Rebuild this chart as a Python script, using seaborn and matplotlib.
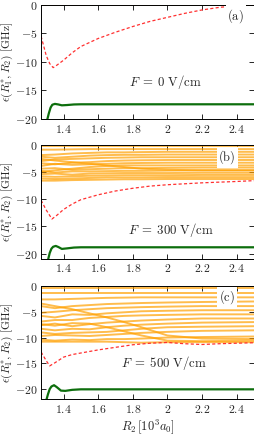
import numpy as np
import seaborn as sns
import matplotlib.pyplot as plt
from matplotlib.ticker import FuncFormatter, FixedLocator

# x grid shared by the excited (orange) levels
x_lvl = [1.27, 1.35, 1.45, 1.55, 1.65, 1.75, 1.85, 2.0, 2.2, 2.5]

# panel (a), F = 0 V/cm
a_orange_x = [1.27, 2.5]
a_orange = [[0.0, 0.0]]
a_red_x = [1.27, 1.285, 1.30, 1.32, 1.34, 1.36, 1.40, 1.45, 1.50, 1.60, 1.70, 1.80,
           1.90, 2.00, 2.10, 2.20, 2.30, 2.40, 2.50]
a_red = [-5.5, -7.2, -8.9, -10.3, -11.0, -10.6, -9.7, -8.4, -7.3, -5.9, -4.8, -3.8,
         -2.9, -2.2, -1.5, -0.9, -0.45, -0.15, -0.02]
a_green_x = [1.305, 1.315, 1.325, 1.335, 1.35, 1.37, 1.39, 1.42, 1.46, 1.50, 2.50]
a_green = [-20.2, -19.0, -18.0, -17.5, -17.35, -17.45, -17.6, -17.55, -17.45, -17.42, -17.42]

# panel (b), F = 300 V/cm
b_orange = [
    [-0.3, -0.3, -0.3, -0.3, -0.3, -0.3, -0.3, -0.3, -0.3, -0.3],
    [-0.9, -0.9, -0.85, -0.8, -0.8, -0.8, -0.8, -0.8, -0.8, -0.8],
    [-1.9, -1.8, -1.6, -1.5, -1.4, -1.4, -1.35, -1.3, -1.3, -1.3],
    [-2.2, -2.4, -2.2, -2.0, -1.9, -1.85, -1.85, -1.8, -1.8, -1.8],
    [-2.6, -2.9, -3.2, -3.5, -3.8, -4.1, -4.4, -4.6, -4.7, -4.7],
    [-3.0, -2.7, -2.6, -2.5, -2.4, -2.35, -2.3, -2.3, -2.3, -2.3],
    [-3.4, -3.6, -3.3, -3.2, -3.0, -2.9, -2.85, -2.8, -2.8, -2.8],
    [-3.9, -3.5, -3.7, -3.6, -3.5, -3.4, -3.35, -3.3, -3.3, -3.3],
    [-5.0, -4.7, -4.4, -4.1, -3.9, -3.8, -3.8, -3.8, -3.8, -3.8],
    [-4.4, -4.3, -4.6, -4.5, -4.4, -4.3, -4.3, -4.25, -4.2, -4.2],
    [-4.8, -5.1, -4.9, -4.9, -4.85, -4.8, -4.8, -4.75, -4.7, -4.7],
    [-5.4, -5.3, -5.5, -5.3, -5.25, -5.2, -5.2, -5.2, -5.15, -5.15],
    [-5.8, -5.9, -5.8, -5.7, -5.65, -5.6, -5.6, -5.6, -5.55, -5.55],
    [-6.2, -6.3, -6.2, -6.1, -6.0, -6.0, -6.0, -5.95, -5.95, -5.95],
    [-6.6, -6.6, -6.5, -6.45, -6.4, -6.35, -6.35, -6.3, -6.3, -6.3],
]
b_red_x = [1.27, 1.30, 1.333, 1.36, 1.40, 1.45, 1.50, 1.60, 1.70, 1.80, 1.90, 2.00,
           2.20, 2.40, 2.50]
b_red = [-10.2, -12.0, -13.65, -13.0, -11.9, -10.9, -10.1, -9.2, -8.5, -8.0, -7.6,
         -7.35, -7.0, -6.75, -6.6]
b_green_x = [1.31, 1.32, 1.33, 1.34, 1.355, 1.37, 1.39, 1.42, 1.46, 1.50, 2.50]
b_green = [-21.2, -19.9, -19.1, -18.75, -18.6, -18.8, -19.15, -19.05, -18.9, -18.85, -18.85]

# panel (c), F = 500 V/cm
c_orange = [
    [-0.4, -0.4, -0.4, -0.4, -0.4, -0.4, -0.4, -0.4, -0.4, -0.4],
    [-1.45, -1.45, -1.45, -1.45, -1.45, -1.45, -1.45, -1.45, -1.45, -1.45],
    [-2.6, -2.6, -2.5, -2.4, -2.3, -2.25, -2.2, -2.2, -2.2, -2.2],
    [-3.4, -3.9, -4.5, -5.3, -6.1, -7.0, -8.0, -9.6, -10.2, -10.3],
    [-3.9, -4.3, -3.9, -3.7, -3.5, -3.4, -3.3, -3.2, -3.1, -3.0],
    [-5.2, -5.0, -4.7, -4.5, -4.3, -4.2, -4.1, -4.0, -3.9, -3.9],
    [-5.8, -6.1, -5.5, -5.6, -5.3, -5.1, -4.9, -4.8, -4.7, -4.7],
    [-6.9, -6.6, -6.6, -6.2, -6.0, -5.8, -5.7, -5.6, -5.5, -5.5],
    [-7.6, -7.3, -7.8, -7.4, -7.1, -6.9, -6.7, -6.5, -6.3, -6.3],
    [-8.3, -8.6, -8.3, -8.4, -8.0, -7.7, -7.5, -7.3, -7.1, -7.0],
    [-7.4, -7.7, -7.2, -7.3, -8.0, -8.8, -9.6, -10.6, -10.7, -10.6],
    [-9.0, -9.3, -9.1, -9.0, -8.9, -8.6, -8.3, -8.0, -7.9, -7.8],
    [-9.7, -9.5, -9.6, -9.7, -9.5, -9.3, -9.1, -8.9, -8.7, -8.6],
    [-10.4, -10.6, -10.4, -10.5, -10.3, -10.3, -10.2, -10.0, -9.9, -9.8],
    [-10.8, -10.8, -10.8, -10.8, -10.8, -10.9, -11.0, -10.9, -10.9, -10.9],
]
c_red_x = [1.27, 1.30, 1.32, 1.35, 1.40, 1.45, 1.50, 1.60, 1.70, 1.80, 1.90, 2.00,
           2.10, 2.20, 2.30, 2.40, 2.50]
c_red = [-12.8, -14.5, -15.5, -14.9, -13.8, -13.3, -13.0, -12.4, -11.9, -11.4, -11.1,
         -10.95, -11.2, -11.35, -11.2, -11.1, -11.0]
c_green_x = [1.30, 1.31, 1.32, 1.33, 1.345, 1.36, 1.385, 1.41, 1.45, 1.50, 2.50]
c_green = [-22.2, -21.0, -20.0, -19.5, -19.25, -19.6, -20.3, -20.35, -20.15, -20.05, -20.05]

field_labels = [r'$F\;=\;0\ \mathrm{V/cm}$', r'$F\;=\;300\ \mathrm{V/cm}$',
                r'$F\;=\;500\ \mathrm{V/cm}$']
panel_tags = [r'$\mathrm{(a)}$', r'$\mathrm{(b)}$', r'$\mathrm{(c)}$']
y_bottoms = [-20, -21, -22]
x_ticks = [1.4, 1.6, 1.8, 2.0, 2.2, 2.4]
y_ticks = [0, -5, -10, -15, -20]

sns.set_theme(style='ticks')
plt.rcParams['mathtext.fontset'] = 'cm'
plt.rcParams['font.family'] = ['DejaVu Serif']

fig = plt.figure(figsize=(2.55, 4.36), dpi=100)
rects = [[0.161, 0.727, 0.835, 0.262],
         [0.161, 0.406, 0.835, 0.262],
         [0.161, 0.084, 0.835, 0.260]]

panels = [
    (a_orange_x, a_orange, a_red_x, a_red, a_green_x, a_green, (1.99, -13.5), (2.395, -2.0)),
    (x_lvl, b_orange, b_red_x, b_red, b_green_x, b_green, (2.02, -15.7), (2.345, -2.3)),
    (x_lvl, c_orange, c_red_x, c_red, c_green_x, c_green, (1.98, -15.0), (2.345, -2.2)),
]

fmt = FuncFormatter(lambda v, p: f'${v:g}$')

for i, (ox, olines, rx, ry, gx, gy, fpos, tpos) in enumerate(panels):
    ax = fig.add_axes(rects[i])

    # excited levels
    for yl in olines:
        sns.lineplot(x=ox, y=yl, ax=ax, color='#ffa000', alpha=0.7, lw=1.4,
                     estimator=None, sort=False)
    # ground state of the lower potential
    sns.lineplot(x=rx, y=ry, ax=ax, color='#ff3030', lw=0.9, estimator=None,
                 sort=False, dashes=False, linestyle=(0, (2.5, 1.8)))
    sns.lineplot(x=gx, y=gy, ax=ax, color='#0d6e0d', lw=1.6, estimator=None, sort=False)

    ax.set_xlim(1.27, 2.5)
    ax.set_ylim(y_bottoms[i], 0)
    ax.xaxis.set_major_locator(FixedLocator(x_ticks))
    ax.yaxis.set_major_locator(FixedLocator(y_ticks))
    ax.xaxis.set_major_formatter(fmt)
    ax.yaxis.set_major_formatter(fmt)
    ax.tick_params(direction='in', top=True, right=True, length=3.5, width=0.7,
                   labelsize=8.5, pad=2.5)
    for s in ax.spines.values():
        s.set_linewidth(0.7)
        s.set_color('black')

    ax.set_ylabel(r'$\epsilon(R_1^{*},R_2)\ [\mathrm{GHz}]$', fontsize=8.3, labelpad=0)
    if i == 2:
        ax.set_xlabel(r'$R_2\,[10^3 a_0]$', fontsize=9, labelpad=1)
    else:
        ax.set_xlabel('')

    ax.text(fpos[0], fpos[1], field_labels[i], fontsize=9.2, ha='center', va='center')
    ax.text(tpos[0], tpos[1], panel_tags[i], fontsize=9, ha='center', va='center',
            bbox=dict(boxstyle='square,pad=0.15', fc='white', ec='none'))

plt.savefig('out.png', dpi=100)
